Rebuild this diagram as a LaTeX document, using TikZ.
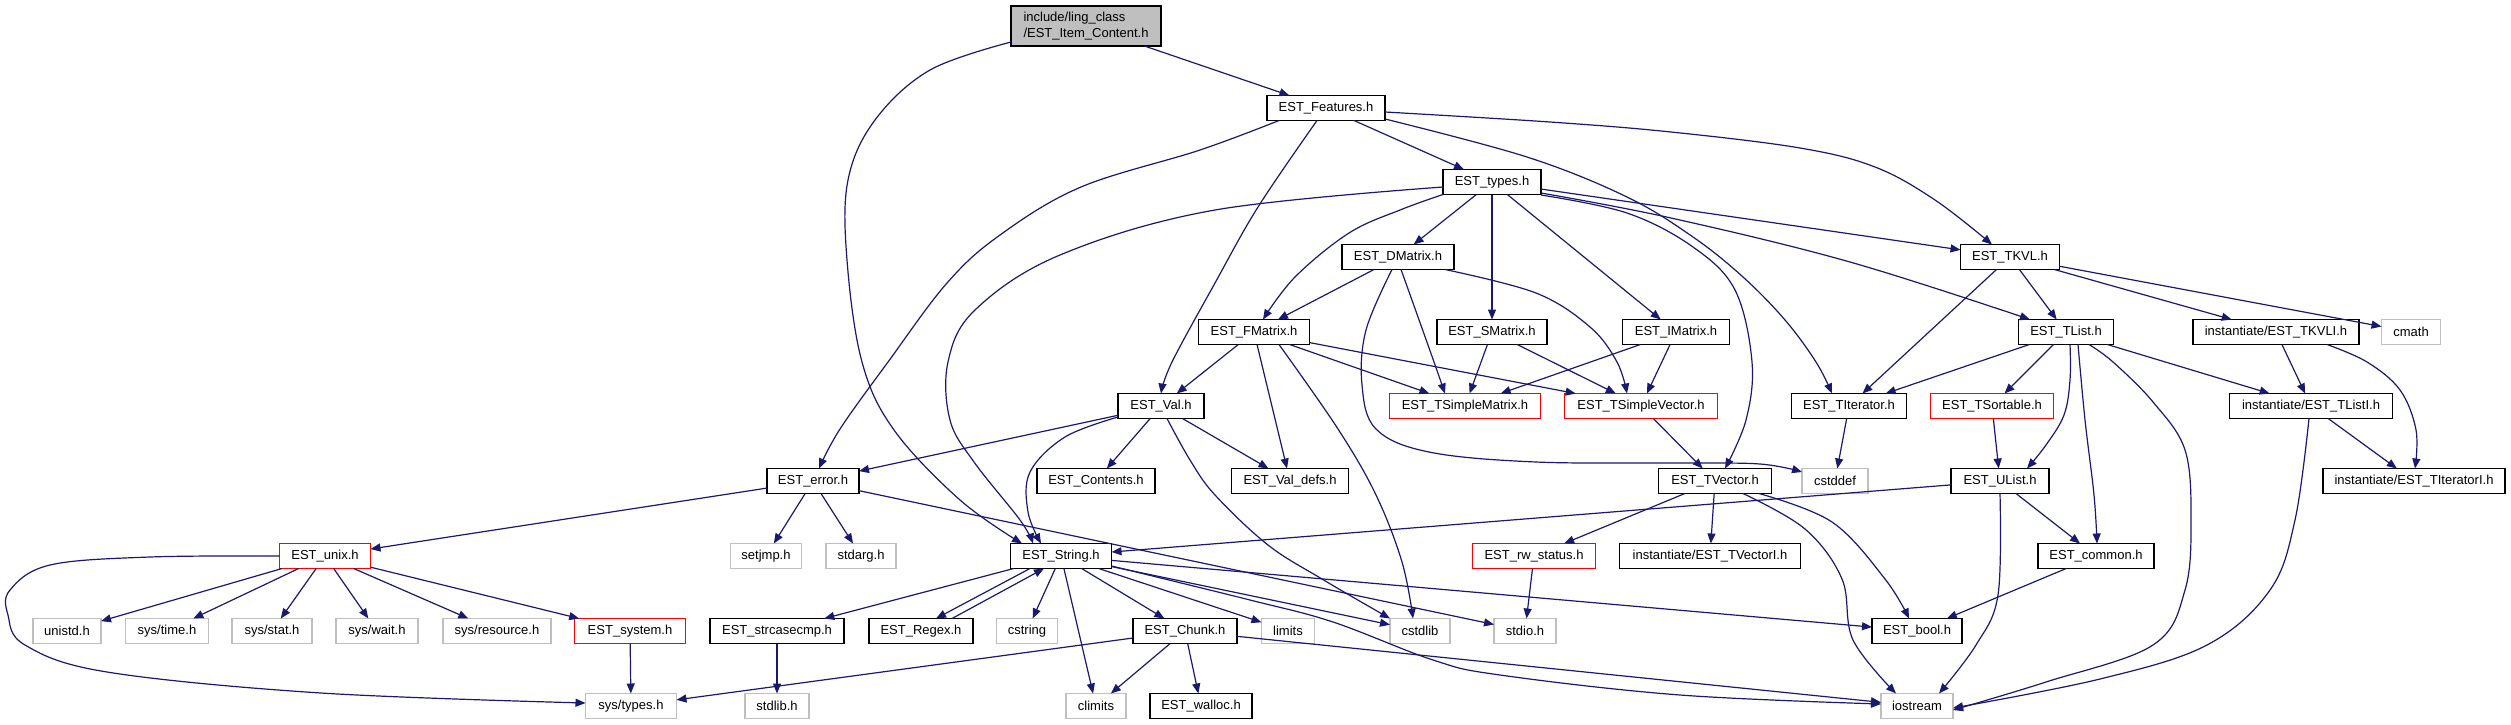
\documentclass[tikz,border=0pt]{standalone}
\usepackage{fontspec}
\setmainfont{Liberation Sans}
\usetikzlibrary{arrows.meta}
\definecolor{edgec}{RGB}{25,25,112}
\definecolor{grayb}{RGB}{191,191,191}
\definecolor{icfill}{RGB}{191,191,191}
\begin{document}
\begin{tikzpicture}[x=1pt,y=-1pt,
 nb/.style={draw=black, line width=1.3pt, fill=white, minimum height=25pt, inner sep=0pt, outer sep=0pt, font=\fontsize{13pt}{16pt}\selectfont},
 gb/.style={nb, draw=grayb},
 rb/.style={nb, draw=red},
 edge/.style={draw=edgec, line width=1.2pt, -{Triangle[length=10pt,width=8pt]}},
 sm/.style={smooth, tension=0.6}
]
\useasboundingbox (0,0) rectangle (2511,724);
% row 0
\node[nb, fill=icfill, minimum width=150pt, minimum height=40pt, align=left] (ic) at (1086,26) {include/ling\_class\\/EST\_Item\_Content.h};
% row 1
\node[nb, minimum width=118pt] (feat) at (1326,108) {EST\_Features.h};
% row 2
\node[nb, minimum width=98pt] (types) at (1492,182) {EST\_types.h};
% row 3
\node[nb, minimum width=112pt] (dmat) at (1398,257) {EST\_DMatrix.h};
\node[nb, minimum width=99pt] (tkvl) at (2010,257) {EST\_TKVL.h};
% row 4
\node[nb, minimum width=111pt] (fmat) at (1254,332) {EST\_FMatrix.h};
\node[nb, minimum width=110pt] (smat) at (1492,332) {EST\_SMatrix.h};
\node[nb, minimum width=107pt] (imat) at (1676,332) {EST\_IMatrix.h};
\node[nb, minimum width=95pt] (tlist) at (2066,332) {EST\_TList.h};
\node[nb, minimum width=166pt] (tkvli) at (2276,332) {instantiate/EST\_TKVLI.h};
\node[gb, minimum width=59pt] (cmath) at (2411,332) {cmath};
% row 5
\node[nb, minimum width=86pt] (val) at (1161,406) {EST\_Val.h};
\node[rb, minimum width=151pt] (tsm) at (1465,406) {EST\_TSimpleMatrix.h};
\node[rb, minimum width=153pt] (tsv) at (1641,406) {EST\_TSimpleVector.h};
\node[nb, minimum width=115pt] (titer) at (1849,406) {EST\_TIterator.h};
\node[rb, minimum width=123pt] (tsort) at (1992,406) {EST\_TSortable.h};
\node[nb, minimum width=163pt] (tlisti) at (2311,406) {instantiate/EST\_TListI.h};
% row 6
\node[nb, minimum width=92pt] (err) at (813,481) {EST\_error.h};
\node[nb, minimum width=118pt] (cont) at (1096,481) {EST\_Contents.h};
\node[nb, minimum width=117pt] (vdefs) at (1290,481) {EST\_Val\_defs.h};
\node[nb, minimum width=113pt] (tvec) at (1715,481) {EST\_TVector.h};
\node[gb, minimum width=66pt] (cstddef) at (1835,481) {cstddef};
\node[nb, minimum width=98pt] (ulist) at (2000,481) {EST\_UList.h};
\node[nb, minimum width=182pt] (titeri) at (2414,481) {instantiate/EST\_TIteratorI.h};
% row 7
\node[rb, minimum width=91pt] (unix) at (325,556) {EST\_unix.h};
\node[gb, minimum width=71pt] (setjmp) at (766,556) {setjmp.h};
\node[gb, minimum width=70pt] (stdarg) at (861,556) {stdarg.h};
\node[nb, minimum width=101pt] (string) at (1061,556) {EST\_String.h};
\node[rb, minimum width=123pt] (rws) at (1534,556) {EST\_rw\_status.h};
\node[nb, minimum width=181pt] (tveci) at (1710,556) {instantiate/EST\_TVectorI.h};
\node[nb, minimum width=116pt] (common) at (2096,556) {EST\_common.h};
% row 8
\node[gb, minimum width=68pt] (unistd) at (67,631) {unistd.h};
\node[gb, minimum width=83pt] (systime) at (167,631) {sys/time.h};
\node[gb, minimum width=80pt] (sysstat) at (272,631) {sys/stat.h};
\node[gb, minimum width=82pt] (syswait) at (377,631) {sys/wait.h};
\node[gb, minimum width=108pt] (sysres) at (497,631) {sys/resource.h};
\node[rb, minimum width=111pt] (system) at (630,631) {EST\_system.h};
\node[nb, minimum width=134pt] (strcase) at (777,631) {EST\_strcasecmp.h};
\node[nb, minimum width=104pt] (regex) at (921,631) {EST\_Regex.h};
\node[gb, minimum width=61pt] (cstring) at (1027,631) {cstring};
\node[nb, minimum width=104pt] (chunk) at (1185,631) {EST\_Chunk.h};
\node[gb, minimum width=53pt] (limits) at (1288,631) {limits};
\node[gb, minimum width=60pt] (cstdlib) at (1420,631) {cstdlib};
\node[gb, minimum width=62pt] (stdio) at (1525,631) {stdio.h};
\node[nb, minimum width=90pt] (bool) at (1917,631) {EST\_bool.h};
% row 9
\node[gb, minimum width=91pt] (systypes) at (631,706) {sys/types.h};
\node[gb, minimum width=64pt] (stdlib) at (777,706) {stdlib.h};
\node[gb, minimum width=60pt] (climits) at (1096,706) {climits};
\node[nb, minimum width=102pt] (walloc) at (1201,706) {EST\_walloc.h};
\node[gb, minimum width=72pt] (iostream) at (1917,706) {iostream};

% straight edges
\foreach \a/\b in {ic/feat, feat/types, types/dmat, types/smat, types/imat, types/tkvl,
  dmat/fmat, tkvl/titer, tkvl/tlist, tkvl/tkvli, tkvl/cmath, fmat/val, fmat/vdefs,
  fmat/tsm, fmat/tsv, smat/tsm, smat/tsv, imat/tsm, imat/tsv, tlist/titer, tlist/tsort,
  tlist/tlisti, tkvli/tlisti, val/err, val/cont, val/vdefs, err/unix, err/setjmp,
  err/stdarg, err/stdio, unix/unistd, unix/systime, unix/sysstat, unix/syswait,
  unix/sysres, unix/system, system/systypes, string/strcase, string/cstring,
  string/climits, string/chunk, string/limits, string/cstdlib, string/bool,
  strcase/stdlib, chunk/systypes, chunk/climits, chunk/walloc, chunk/iostream,
  tsv/tvec, tvec/rws, tvec/tveci, titer/cstddef, tsort/ulist, ulist/string,
  ulist/common, common/bool, tlisti/titeri, rws/stdio}
  \draw[edge] (\a) -- (\b);
\draw[edge] ([xshift=-31pt]string.south) -- ([xshift=15pt]regex.north);
\draw[edge] ([xshift=31pt]regex.north) -- ([xshift=-17pt]string.south);

% curved edges
\draw[edge] plot[sm] coordinates {([yshift=4pt]ic.south west) (930,70) (875,120) (848,180) (847,260) (862,362) (894,430) (960,500) ([xshift=-39pt]string.north)};
\draw[edge] plot[sm] coordinates {([yshift=-5pt]types.west) (1215,210) (1060,255) (975,310) (948,362) (950,420) (974,462) (1020,520) ([xshift=-28pt]string.north)};
\draw[edge] plot[sm] coordinates {([xshift=-47pt]feat.south) (1200,150) (1081,187) (1000,235) (947,283) (888,362) (840,429) ([xshift=6pt]err.north)};
\draw[edge] plot[sm] coordinates {([xshift=-9pt]feat.south) (1258,207) (1215,283) (1172,362) (val.north)};
\draw[edge] plot[sm] coordinates {([yshift=-4pt]feat.east) (1550,122) (1671,132) (1800,148) (1875,167) (1935,200) ([xshift=-18pt]tkvl.north)};
\draw[edge] plot[sm] coordinates {([yshift=-11pt]feat.east) (1527,157) (1627,197) (1693,237) (1743,277) (1785,320) (1816,362) ([xshift=-17pt]titer.north)};
\draw[edge] plot[sm] coordinates {(types.south west) (1400,210) (1349,233) (1295,277) ([xshift=9pt]fmat.north)};
\draw[edge] plot[sm] coordinates {([yshift=-11pt]types.east) (1671,218) (1850,262) ([xshift=-36pt]tlist.north)};
\draw[edge] plot[sm] coordinates {([yshift=-13pt]types.east) (1627,213) (1693,247) (1735,290) (1752,362) (1746,420) ([xshift=10pt]tvec.north)};
\draw[edge] plot[sm] coordinates {([xshift=3pt]dmat.south) (1418,317) (1434,362) ([xshift=-20pt]tsm.north)};
\draw[edge] plot[sm] coordinates {([xshift=47pt]dmat.south) (1536,293) (1590,327) (1617,362) ([xshift=-14pt]tsv.north)};
\draw[edge] plot[sm] coordinates {([xshift=-6pt]dmat.south) (1366,330) (1362,385) (1376,429) (1429,452) (1536,462) (1680,463) (1760,464) ([yshift=9pt]cstddef.west)};
\draw[edge] plot[sm] coordinates {([xshift=25pt]fmat.south) (1338,429) (1376,495) (1402,562) ([xshift=-7pt]cstdlib.north)};
\draw[edge] plot[sm] coordinates {([yshift=-11pt]val.west) (1065,437) (1030,472) (1028,512) ([xshift=-20pt]string.north)};
\draw[edge] plot[sm] coordinates {([xshift=6pt]val.south) (1190,460) (1215,495) (1268,545) (1322,579) (cstdlib.north west)};
\draw[edge] plot[sm] coordinates {(unix.west) (150,557) (50,565) (10,590) (8,615) (25,645) (107,672) (321,693) ([yshift=3pt]systypes.west)};
\draw[edge] plot[sm] coordinates {([yshift=-10pt]string.east) (1250,600) (1333,622) (1433,660) (1500,675) (1680,695) ([yshift=2pt]iostream.west)};
\draw[edge] plot[sm] coordinates {([xshift=28pt]tvec.south) (1805,529) (1842,579) (1853,640) ([xshift=-21pt]iostream.north)};
\draw[edge] plot[sm] coordinates {([xshift=44pt]tvec.south) (1832,522) (1885,579) ([xshift=-8pt]bool.north)};
\draw[edge] plot[sm] coordinates {(ulist.south) (1998,595) (1976,645) ([xshift=22pt]iostream.north)};
\draw[edge] plot[sm] coordinates {([xshift=4pt]tlist.south) (2070,380) (2064,415) (2046,445) ([xshift=27pt]ulist.north)};
\draw[edge] plot[sm] coordinates {([xshift=12pt]tlist.south) (2085,420) (2094,495) ([xshift=1pt]common.north)};
\draw[edge] plot[sm] coordinates {([xshift=23pt]tlist.south) (2113,362) (2153,402) (2185,450) (2191,520) (2185,590) (2153,645) (2046,682) ([yshift=-4pt]iostream.east)};
\draw[edge] plot[sm] coordinates {([xshift=51pt]tkvli.south) (2367,362) (2400,390) (2416,430) ([xshift=1pt]titeri.north)};
\draw[edge] plot[sm] coordinates {([xshift=-2pt]tlisti.south) (2295,520) (2270,590) (2207,645) (2100,679) ([yshift=-2pt]iostream.east)};
\end{tikzpicture}
\end{document}
